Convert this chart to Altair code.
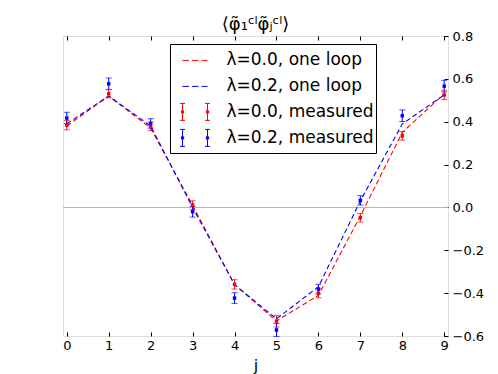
import altair as alt
import pandas as pd

# ---- data ----
j = list(range(10))
loop_00 = [0.38, 0.52, 0.37, 0.01, -0.36, -0.53, -0.41, -0.04, 0.35, 0.53]
loop_02 = [0.39, 0.52, 0.38, 0.00, -0.36, -0.52, -0.37, 0.03, 0.39, 0.525]
meas_00 = [0.384, 0.531, 0.378, 0.011, -0.359, -0.531, -0.400, -0.048, 0.334, 0.525]
err_00 = [0.022, 0.020, 0.020, 0.020, 0.022, 0.027, 0.022, 0.020, 0.020, 0.022]
meas_02 = [0.417, 0.577, 0.392, -0.020, -0.423, -0.572, -0.381, 0.033, 0.428, 0.566]
err_02 = [0.027, 0.027, 0.022, 0.025, 0.025, 0.030, 0.022, 0.022, 0.027, 0.027]
series = ["λ=0.0, one loop", "λ=0.2, one loop", "λ=0.0, measured", "λ=0.2, measured"]
colors = ["#ff0000", "#0000ff", "#ff0000", "#0000ff"]
y_ticks = [-0.6, -0.4, -0.2, 0.0, 0.2, 0.4, 0.6, 0.8]
title_text = "⟨φ̃₁ᶜˡφ̃ⱼᶜˡ⟩"
x_title = "j"

FONT = "DejaVu Sans"

lines_df = pd.DataFrame({
    "j": j + j,
    "value": loop_00 + loop_02,
    "series": [series[0]] * len(j) + [series[1]] * len(j),
})
meas_df = pd.DataFrame({
    "j": j + j,
    "value": meas_00 + meas_02,
    "err": err_00 + err_02,
    "series": [series[2]] * len(j) + [series[3]] * len(j),
})
meas_df["lo"] = meas_df["value"] - meas_df["err"]
meas_df["hi"] = meas_df["value"] + meas_df["err"]
legend_df = pd.DataFrame({"series": series})

# legend symbol paths (unit coords)
DASH = ("M-1.136,0.045H-0.55 M-0.27,0.045H0.32 M0.6,0.045H1.136")
ERR = ("M-1.136,-0.77V0.77 M-1.36,-0.77H-0.91 M-1.36,0.77H-0.91 "
       "M-1.24,-0.1H-1.03V0.1H-1.24Z "
       "M1.136,-0.77V0.77 M0.91,-0.77H1.36 M0.91,0.77H1.36 "
       "M1.03,-0.1H1.24V0.1H1.03Z")

xs = alt.Scale(domain=[-0.09, 9.09], nice=False, zero=False)
ys = alt.Scale(domain=[-0.6, 0.8], nice=False, zero=False)
cs = alt.Scale(domain=series, range=colors)
ss = alt.Scale(domain=series, range=[DASH, DASH, ERR, ERR])

leg = alt.Legend(
    title=" ", titleFontSize=1, titlePadding=0,
    orient="none", legendX=107, legendY=8,
    fillColor="white", strokeColor="black", padding=2, cornerRadius=0,
    labelFont=FONT, labelFontSize=17, labelColor="black",
    symbolSize=484, symbolStrokeWidth=1, symbolOpacity=1,
    symbolOffset=11.5, labelOffset=20, rowPadding=0, clipHeight=25.8,
    labelExpr="datum.label + '\u00a0\u00a0'",
)

legend_layer = alt.Chart(legend_df).mark_point(filled=False, opacity=0).encode(
    color=alt.Color("series:N", scale=cs, legend=leg),
    shape=alt.Shape("series:N", scale=ss, legend=leg),
)

zero = alt.Chart(pd.DataFrame({"y": [0.0]})).mark_rule(
    color="#b4b4b4", strokeWidth=1
).encode(y=alt.Y("y:Q", scale=ys, axis=None))

bottom_axis = alt.Axis(
    orient="bottom", values=j, format="d", offset=-4, tickSize=4, domain=False,
    grid=False, labelPadding=3, labelFont=FONT, labelFontSize=13,
    labelColor="black", tickColor="black", title=x_title, titleFont=FONT,
    titleFontSize=16, titleFontWeight="normal", titleColor="black",
    titlePadding=5,
)
right_axis = alt.Axis(
    orient="right", values=y_ticks, format=".1f", offset=-4, tickSize=4,
    domain=False, grid=False, labelPadding=4, labelFont=FONT, labelFontSize=13,
    labelColor="black", tickColor="black", title=None,
)
top_axis = alt.Axis(
    orient="top", values=j, offset=-4, tickSize=4, domain=False, grid=False,
    labels=False, tickColor="black", title=None,
)

lines = alt.Chart(lines_df).mark_line(strokeDash=[5, 3], strokeWidth=1.1).encode(
    x=alt.X("j:Q", scale=xs, axis=bottom_axis),
    y=alt.Y("value:Q", scale=ys, axis=right_axis),
    color=alt.Color("series:N", scale=cs),
    detail="series:N",
)

bars = alt.Chart(meas_df).mark_rule(strokeWidth=1).encode(
    x=alt.X("j:Q", scale=xs, axis=top_axis),
    y=alt.Y("lo:Q", scale=ys, axis=None),
    y2="hi:Q",
    color=alt.Color("series:N", scale=cs),
)
caps_lo = alt.Chart(meas_df).mark_tick(orient="horizontal", size=6, thickness=1).encode(
    x=alt.X("j:Q", scale=xs, axis=None),
    y=alt.Y("lo:Q", scale=ys, axis=None),
    color=alt.Color("series:N", scale=cs),
)
caps_hi = alt.Chart(meas_df).mark_tick(orient="horizontal", size=6, thickness=1).encode(
    x=alt.X("j:Q", scale=xs, axis=None),
    y=alt.Y("hi:Q", scale=ys, axis=None),
    color=alt.Color("series:N", scale=cs),
)
pts = alt.Chart(meas_df).mark_square(size=12, opacity=1).encode(
    x=alt.X("j:Q", scale=xs, axis=None),
    y=alt.Y("value:Q", scale=ys, axis=None),
    color=alt.Color("series:N", scale=cs),
)

chart = alt.layer(
    legend_layer, zero, lines, bars, caps_lo, caps_hi, pts
).resolve_axis(x="independent", y="independent").resolve_scale(
    x="shared", y="shared", color="shared", shape="shared"
).properties(
    width=385, height=300,
    title=alt.TitleParams(text=title_text, font=FONT, fontSize=18,
                          fontWeight="normal", color="black", offset=-4),
    autosize=alt.AutoSizeParams(type="none"),
    padding={"left": 55, "top": 28, "right": 42, "bottom": 38},
).configure_view(stroke="black", strokeWidth=1).configure(background="white")

chart.save("out.html", embed_options={"renderer": "svg", "actions": False})
